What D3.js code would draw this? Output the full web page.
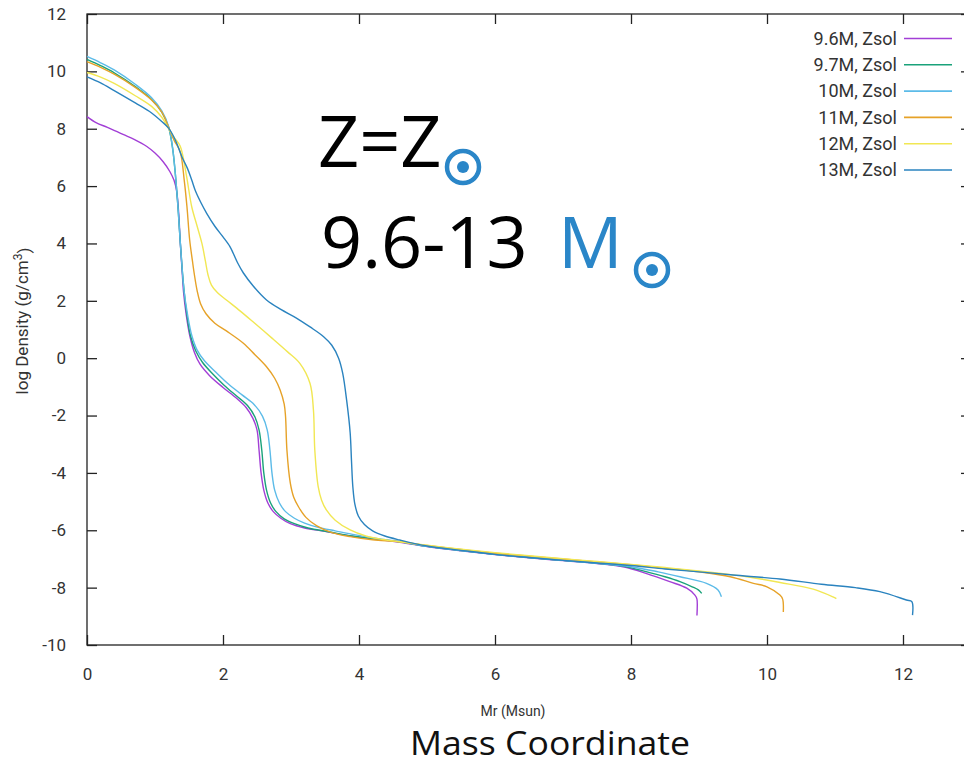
<!DOCTYPE html>
<html>
<head>
<meta charset="utf-8">
<script src="https://cdn.jsdelivr.net/npm/d3@7"></script>
<style>
  body { margin: 0; background: #fff; }
  svg { display: block; }
</style>
</head>
<body>
<div id="chart"></div>
<script>
const width = 964;
const height = 765;

// series: [Mr (Msun), log density]
const m9p6 = [[0,8.42],[0.14,8.2],[0.3,8.05],[0.53,7.8],[0.7,7.62],[0.88,7.38],[1.0,7.15],[1.12,6.85],[1.22,6.5],[1.28,6.2],[1.32,5.8],[1.35,5.0],[1.37,4.1],[1.4,3.0],[1.42,2.3],[1.46,1.5],[1.51,0.8],[1.58,0.2],[1.66,-0.2],[1.8,-0.6],[2.0,-1.02],[2.2,-1.4],[2.34,-1.72],[2.44,-2.1],[2.5,-2.5],[2.53,-3.2],[2.56,-4.0],[2.6,-4.6],[2.66,-5.05],[2.74,-5.35],[2.85,-5.58],[2.99,-5.77],[3.2,-5.92],[3.5,-6.04],[3.87,-6.2],[4.3,-6.32],[4.6,-6.42],[5,-6.57],[5.5,-6.72],[6,-6.85],[6.5,-6.96],[7,-7.06],[7.5,-7.16],[7.9,-7.28],[8.22,-7.5],[8.57,-7.79],[8.82,-8.02],[8.94,-8.26],[8.97,-8.4],[8.97,-8.97]];
const m9p7 = [[0,10.42],[0.2,10.2],[0.4,9.95],[0.71,9.47],[0.95,9.02],[1.1,8.58],[1.2,8.05],[1.26,7.3],[1.3,6.4],[1.34,5.2],[1.37,4.1],[1.4,3.1],[1.43,2.3],[1.47,1.5],[1.52,0.8],[1.6,0.25],[1.7,-0.15],[1.85,-0.55],[2.02,-0.95],[2.2,-1.32],[2.36,-1.65],[2.47,-2.05],[2.53,-2.5],[2.57,-3.2],[2.6,-4.0],[2.64,-4.6],[2.7,-5.05],[2.78,-5.35],[2.9,-5.6],[3.05,-5.77],[3.25,-5.92],[3.55,-6.05],[3.9,-6.2],[4.3,-6.32],[4.6,-6.4],[5,-6.56],[5.5,-6.71],[6,-6.84],[6.5,-6.95],[7,-7.05],[7.5,-7.15],[7.9,-7.26],[8.22,-7.44],[8.5,-7.62],[8.72,-7.79],[8.9,-7.97],[8.99,-8.08],[9.04,-8.2]];
const m10 = [[0,10.52],[0.2,10.3],[0.4,10.05],[0.71,9.55],[0.95,9.08],[1.1,8.62],[1.2,8.08],[1.26,7.3],[1.3,6.4],[1.34,5.2],[1.37,4.1],[1.4,3.1],[1.43,2.3],[1.48,1.5],[1.54,0.8],[1.62,0.28],[1.73,-0.1],[1.9,-0.5],[2.08,-0.9],[2.28,-1.28],[2.46,-1.62],[2.58,-2.02],[2.65,-2.5],[2.69,-3.2],[2.72,-4.0],[2.76,-4.6],[2.83,-5.05],[2.92,-5.35],[3.05,-5.58],[3.2,-5.75],[3.4,-5.9],[3.65,-6.02],[3.95,-6.16],[4.3,-6.3],[4.6,-6.4],[5,-6.56],[5.5,-6.71],[6,-6.84],[6.5,-6.95],[7,-7.05],[7.5,-7.15],[8,-7.27],[8.4,-7.45],[8.72,-7.62],[9.11,-7.85],[9.28,-8.08],[9.33,-8.32]];
const m11 = [[0,10.34],[0.2,10.14],[0.4,9.9],[0.71,9.44],[0.95,9.0],[1.1,8.58],[1.2,8.05],[1.28,7.6],[1.37,7.2],[1.43,6.2],[1.47,5.28],[1.51,4.12],[1.55,3.4],[1.58,2.9],[1.62,2.35],[1.67,1.9],[1.75,1.55],[1.88,1.22],[2.05,0.95],[2.3,0.52],[2.47,0.12],[2.64,-0.3],[2.76,-0.7],[2.84,-1.11],[2.9,-1.6],[2.92,-2.04],[2.94,-3.2],[2.99,-4.36],[3.04,-4.85],[3.11,-5.18],[3.22,-5.55],[3.38,-5.85],[3.6,-6.08],[3.87,-6.22],[4.2,-6.33],[4.6,-6.4],[5,-6.53],[5.5,-6.67],[6,-6.8],[6.5,-6.9],[7,-7.0],[7.5,-7.1],[8,-7.2],[8.5,-7.32],[9.0,-7.45],[9.46,-7.62],[9.8,-7.85],[10.0,-7.97],[10.19,-8.26],[10.23,-8.4],[10.24,-8.85]];
const m12 = [[0,9.96],[0.2,9.8],[0.4,9.58],[0.71,9.15],[0.95,8.78],[1.1,8.4],[1.2,8.0],[1.28,7.7],[1.37,7.4],[1.46,6.4],[1.54,5.28],[1.62,4.6],[1.69,4.0],[1.74,3.4],[1.78,2.9],[1.83,2.55],[1.92,2.28],[2.05,2.03],[2.25,1.65],[2.45,1.25],[2.72,0.7],[2.95,0.22],[3.13,-0.18],[3.28,-0.88],[3.33,-1.81],[3.35,-3.2],[3.4,-4.48],[3.45,-4.95],[3.52,-5.29],[3.65,-5.65],[3.87,-5.99],[4.1,-6.2],[4.35,-6.32],[4.6,-6.4],[5,-6.52],[5.5,-6.66],[6,-6.78],[6.5,-6.89],[7,-6.99],[7.5,-7.09],[8,-7.19],[8.5,-7.3],[9.0,-7.42],[9.7,-7.62],[10.19,-7.82],[10.68,-8.05],[10.97,-8.32],[11.02,-8.38]];
const m13 = [[0,9.81],[0.2,9.6],[0.4,9.33],[0.71,8.9],[0.95,8.55],[1.1,8.25],[1.2,8.02],[1.3,7.6],[1.4,7.0],[1.48,6.6],[1.54,6.21],[1.6,5.8],[1.68,5.4],[1.76,5.05],[1.88,4.6],[2.0,4.23],[2.1,3.9],[2.15,3.66],[2.22,3.3],[2.3,2.97],[2.45,2.5],[2.64,2.03],[2.85,1.7],[3.08,1.4],[3.28,1.09],[3.48,0.75],[3.6,0.45],[3.7,0.0],[3.76,-0.52],[3.82,-1.5],[3.87,-2.6],[3.89,-3.6],[3.91,-4.5],[3.94,-5.1],[3.99,-5.5],[4.08,-5.8],[4.2,-6.02],[4.38,-6.2],[4.6,-6.34],[5,-6.55],[5.5,-6.7],[6,-6.84],[6.5,-6.95],[7,-7.05],[7.5,-7.14],[8,-7.23],[8.5,-7.35],[9,-7.45],[9.5,-7.56],[10.19,-7.7],[10.8,-7.88],[11.3,-8.0],[11.66,-8.14],[12.05,-8.43],[12.13,-8.49],[12.14,-8.96]];

const seriesNames = ["9.6M, Zsol", "9.7M, Zsol", "10M, Zsol", "11M, Zsol", "12M, Zsol", "13M, Zsol"];
const seriesData = [m9p6, m9p7, m10, m11, m12, m13];
const colors = ["#a23fd6", "#1aa27a", "#5cbbe8", "#e6a228", "#f1e753", "#2a83bf"];

const xTicks = [0, 2, 4, 6, 8, 10, 12];
const yTicks = [-10, -8, -6, -4, -2, 0, 2, 4, 6, 8, 10, 12];

const svg = d3.select("#chart")
  .append("svg")
  .attr("width", width)
  .attr("height", height);

const xScale = d3.scaleLinear().domain([0, 13]).range([87, 971]);
const yScale = d3.scaleLinear().domain([-10, 12]).range([645, 14]);

const tickFont = "Roboto, 'Liberation Sans', sans-serif";

// frame
svg.append("rect")
  .attr("x", xScale(0))
  .attr("y", yScale(12))
  .attr("width", xScale(13) - xScale(0))
  .attr("height", yScale(-10) - yScale(12))
  .attr("fill", "none")
  .attr("stroke", "#222")
  .attr("stroke-width", 1.3);

const plain = d => String(d);

const xAxis = svg.append("g")
  .attr("transform", `translate(0, ${yScale(-10)})`)
  .call(d3.axisBottom(xScale).tickValues(xTicks).tickSizeInner(-10).tickSizeOuter(0).tickPadding(23).tickFormat(plain));
const xAxisTop = svg.append("g")
  .attr("transform", `translate(0, ${yScale(12)})`)
  .call(d3.axisTop(xScale).tickValues(xTicks).tickSizeInner(-10).tickSizeOuter(0).tickFormat(""));
const yAxis = svg.append("g")
  .attr("transform", `translate(${xScale(0)}, 0)`)
  .call(d3.axisLeft(yScale).tickValues(yTicks).tickSizeInner(-10).tickSizeOuter(0).tickPadding(21).tickFormat(plain));
const yAxisRight = svg.append("g")
  .attr("transform", `translate(${xScale(13)}, 0)`)
  .call(d3.axisRight(yScale).tickValues(yTicks).tickSizeInner(-10).tickSizeOuter(0).tickFormat(""));

[xAxis, xAxisTop, yAxis, yAxisRight].forEach(g => {
  g.select(".domain").remove();
  g.selectAll("line").attr("stroke", "#222").attr("stroke-width", 1.3);
  g.selectAll("text")
    .attr("fill", "#333")
    .style("font-family", tickFont)
    .style("font-size", "17px");
});

// curves
const line = d3.line()
  .x(d => xScale(d[0]))
  .y(d => yScale(d[1]))
  .curve(d3.curveCatmullRom.alpha(0.5));

svg.selectAll(".series")
  .data(seriesData)
  .enter()
  .append("path")
  .attr("class", "series")
  .attr("d", line)
  .attr("fill", "none")
  .attr("stroke", (d, i) => colors[i])
  .attr("stroke-width", 1.4);

// legend
const legend = svg.append("g");
seriesNames.forEach((name, i) => {
  const y = 38.5 + i * 26.3;
  legend.append("text")
    .attr("x", 897)
    .attr("y", y)
    .attr("dy", "0.35em")
    .attr("text-anchor", "end")
    .attr("fill", "#333")
    .style("font-family", tickFont)
    .style("font-size", "18px")
    .text(name);
  legend.append("line")
    .attr("x1", 904)
    .attr("x2", 952)
    .attr("y1", y)
    .attr("y2", y)
    .attr("stroke", colors[i])
    .attr("stroke-width", 1.6);
});

// axis titles
svg.append("text")
  .attr("x", 513)
  .attr("y", 711)
  .attr("dy", "0.35em")
  .attr("text-anchor", "middle")
  .attr("fill", "#333")
  .style("font-family", tickFont)
  .style("font-size", "14px")
  .text("Mr (Msun)");

svg.append("text")
  .attr("transform", "translate(22, 321) rotate(-90)")
  .attr("text-anchor", "middle")
  .attr("dy", "0.35em")
  .attr("fill", "#333")
  .style("font-family", tickFont)
  .style("font-size", "17px")
  .text("log Density (g/cm")
  .append("tspan")
  .attr("dy", "-0.5em")
  .style("font-size", "12px")
  .text("3")
  .append("tspan")
  .attr("dy", "0.5em")
  .style("font-size", "17px")
  .text(")");

svg.append("text")
  .attr("x", 550)
  .attr("y", 755)
  .attr("text-anchor", "middle")
  .attr("fill", "#111")
  .attr("textLength", 280)
  .attr("lengthAdjust", "spacingAndGlyphs")
  .style("font-family", "'Open Sans', sans-serif")
  .style("font-size", "33px")
  .text("Mass Coordinate");

// annotation
const sunBlue = "#2a86c8";
const bigFont = "'Open Sans', sans-serif";
svg.append("text")
  .attr("x", 318)
  .attr("y", 167)
  .attr("fill", "#000")
  .style("font-family", bigFont)
  .style("font-size", "72px")
  .text("Z=Z");
svg.append("text")
  .attr("x", 321)
  .attr("y", 268)
  .attr("fill", "#000")
  .style("font-family", bigFont)
  .style("font-size", "72px")
  .text("9.6-13");
svg.append("text")
  .attr("x", 558)
  .attr("y", 268)
  .attr("fill", sunBlue)
  .style("font-family", bigFont)
  .style("font-size", "72px")
  .text("M");

[[463, 167], [652, 270]].forEach(([cx, cy]) => {
  svg.append("circle").attr("cx", cx).attr("cy", cy).attr("r", 16)
    .attr("fill", "none").attr("stroke", sunBlue).attr("stroke-width", 4.5);
  svg.append("circle").attr("cx", cx).attr("cy", cy).attr("r", 6).attr("fill", sunBlue);
});
</script>
</body>
</html>
